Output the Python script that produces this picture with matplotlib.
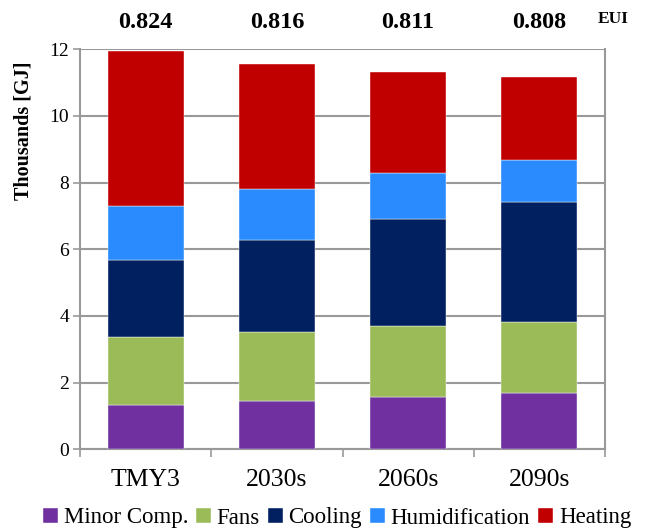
import matplotlib
matplotlib.use("Agg")
import matplotlib.pyplot as plt
import matplotlib.transforms as mtransforms
import numpy as np

# energy by end use, thousands of GJ
periods = ["TMY3", "2030s", "2060s", "2090s"]
eui = ["0.824", "0.816", "0.811", "0.808"]
minor_comp = [1.32, 1.46, 1.58, 1.70]
fans = [2.04, 2.06, 2.11, 2.12]
cooling = [2.32, 2.77, 3.22, 3.59]
humidification = [1.62, 1.51, 1.37, 1.26]
heating = [4.66, 3.77, 3.03, 2.51]

series = [
    ("Minor Comp.", minor_comp, "#7030A0"),
    ("Fans", fans, "#9BBB59"),
    ("Cooling", cooling, "#002060"),
    ("Humidification", humidification, "#2A8BFF"),
    ("Heating", heating, "#C00000"),
]

plt.rcParams["font.family"] = ["Liberation Serif", "DejaVu Serif"]

fig = plt.figure(figsize=(6.45, 5.31), dpi=100)
ax = fig.add_axes([80 / 645, 1 - 449.3 / 531, 525 / 645, 400 / 531])

x = np.arange(len(periods))
bottom = np.zeros(len(periods))
for name, vals, col in series:
    ax.bar(x, vals, width=0.58, bottom=bottom, color=col, label=name,
           edgecolor="white", linewidth=0.3, zorder=3)
    bottom += np.array(vals)

ax.set_xlim(-0.5, len(periods) - 0.5)
ax.set_ylim(0, 12)
ax.set_yticks(np.arange(0, 13, 2))
ax.tick_params(axis="y", labelsize=14, length=5, width=1.2, color="#999999", pad=3)
ax.grid(axis="y", color="#999999", linewidth=1.5, zorder=0)

ax.set_xticks(x)
ax.set_xticklabels(periods, fontsize=18.5)
ax.set_xticks(np.arange(-0.5, len(periods)), minor=True)
ax.tick_params(axis="x", which="major", length=0, pad=14)
ax.tick_params(axis="x", which="minor", length=6, width=1.2, color="#999999")

for side in ["left", "right", "bottom"]:
    ax.spines[side].set_color("#999999")
    ax.spines[side].set_linewidth(1.5)
ax.spines["top"].set_visible(False)

fig.text(24 / 645, 1 - 131 / 531, "Thousands [GJ]", rotation=90, ha="center",
         va="center", fontsize=14.5, fontweight="bold")

# EUI values above each bar
trans = mtransforms.blended_transform_factory(ax.transData, fig.transFigure)
for xi, val in zip(x, eui):
    ax.text(xi, 1 - 22 / 531, val, transform=trans, ha="center", va="center",
            fontsize=17.5, fontweight="bold")
fig.text(613 / 645, 1 - 19 / 531, "EUI", ha="center", va="center",
         fontsize=12.5, fontweight="bold")

handles, labels = ax.get_legend_handles_labels()
fig.legend(handles, labels, loc="center", bbox_to_anchor=(337 / 645, 1 - 518 / 531),
           ncol=5, frameon=False, fontsize=16.5, handlelength=0.65, handleheight=0.65,
           handletextpad=0.25, columnspacing=0.35, borderpad=0)

fig.savefig("out.png", dpi=100)
